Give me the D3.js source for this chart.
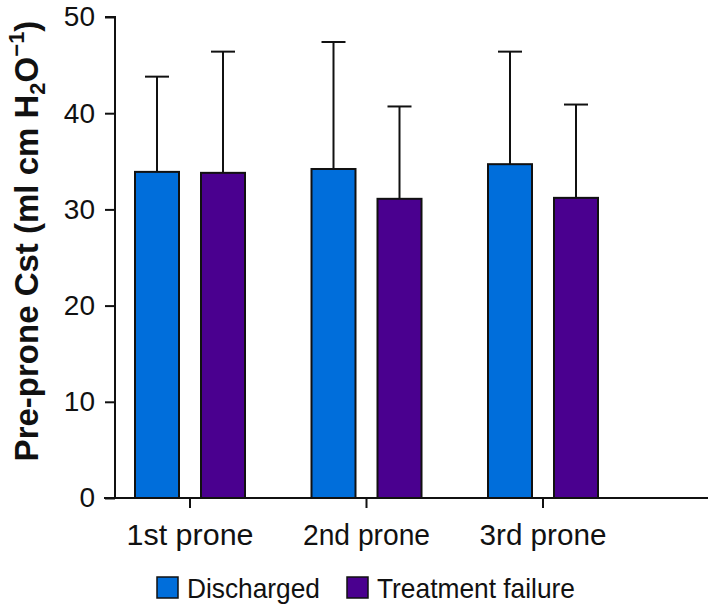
<!DOCTYPE html>
<html><head><meta charset="utf-8">
<script src="https://cdn.jsdelivr.net/npm/d3@7"></script>
<style>body{margin:0;background:#fff;} svg{display:block;font-family:"Liberation Sans",Arial,sans-serif;}</style>
</head><body>
<svg id="c" width="708" height="605"></svg>
<script>
const categories = ["1st prone", "2nd prone", "3rd prone"];
const seriesNames = ["Discharged", "Treatment failure"];
const discharged = [33.9, 34.2, 34.7];
const dischargedErr = [43.8, 47.4, 46.4];
const failure = [33.8, 31.1, 31.2];
const failureErr = [46.4, 40.7, 40.9];
const yTicks = [0, 10, 20, 30, 40, 50];
const colors = ["#006EDB", "#4A008F"];

const svg = d3.select("#c");
const y = d3.scaleLinear().domain([0, 50]).range([498, 17]);
const x = d3.scaleBand().domain(categories).range([101.75, 631.25]).paddingInner(0).paddingOuter(0);
const xs = d3.scaleBand().domain(seriesNames).range([33.25, 143.25]).paddingInner(1/3).paddingOuter(0);

const rows = [];
categories.forEach((c, i) => {
  rows.push({c, s: seriesNames[0], v: discharged[i], e: dischargedErr[i], col: colors[0]});
  rows.push({c, s: seriesNames[1], v: failure[i], e: failureErr[i], col: colors[1]});
});

const eg = svg.append("g").attr("stroke", "#111").attr("stroke-width", 2);
rows.forEach(r => {
  const cx = x(r.c) + xs(r.s) + xs.bandwidth() / 2;
  eg.append("line").attr("x1", cx).attr("x2", cx).attr("y1", y(r.v)).attr("y2", y(r.e));
  eg.append("line").attr("x1", cx - 12).attr("x2", cx + 12).attr("y1", y(r.e)).attr("y2", y(r.e));
});

svg.append("g").selectAll("rect").data(rows).join("rect")
  .attr("x", d => x(d.c) + xs(d.s))
  .attr("y", d => y(d.v))
  .attr("width", xs.bandwidth())
  .attr("height", d => y(0) - y(d.v))
  .attr("fill", d => d.col)
  .attr("stroke", "#111").attr("stroke-width", 2);

const ya = svg.append("g").attr("transform", "translate(115,0)")
  .call(d3.axisLeft(y).tickValues(yTicks).tickSize(10).tickPadding(10));
ya.selectAll("path,line").attr("stroke", "#111").attr("stroke-width", 2);
ya.select(".domain").attr("d", "M-10,17H0V498");
ya.selectAll("text").attr("font-size", 28).attr("fill", "#111").attr("font-family", "Liberation Sans, Arial, sans-serif");

const xa = svg.append("g").attr("transform", "translate(0,498)")
  .call(d3.axisBottom(x).tickSize(10).tickPadding(16));
xa.select(".domain").attr("d", "M104,0H708");
xa.selectAll("path,line").attr("stroke", "#111").attr("stroke-width", 2);
xa.selectAll("text").attr("font-size", 29).attr("fill", "#111").attr("font-family", "Liberation Sans, Arial, sans-serif")
  .attr("textLength", 127).attr("lengthAdjust", "spacingAndGlyphs");

const t = svg.append("text").attr("transform", "translate(38,241) rotate(-90)")
  .attr("text-anchor", "middle").attr("font-size", 33).attr("font-weight", "bold").attr("fill", "#111");
t.append("tspan").text("Pre-prone Cst (ml cm H");
t.append("tspan").text("2").attr("font-size", 22).attr("dy", 7);
t.append("tspan").text("O").attr("dy", -7);
t.append("tspan").text("−1").attr("font-size", 22).attr("dy", -14);
t.append("tspan").text(")").attr("dy", 14);

const lg = svg.append("g");
const legendX = [157, 347];
const legendLen = [133, 198];
seriesNames.forEach((s, i) => {
  lg.append("rect").attr("x", legendX[i]).attr("y", 577).attr("width", 21).attr("height", 21)
    .attr("fill", colors[i]).attr("stroke", "#111").attr("stroke-width", 1.5);
  lg.append("text").attr("x", legendX[i] + 30).attr("y", 598).attr("font-size", 28).attr("fill", "#111")
    .attr("textLength", legendLen[i]).attr("lengthAdjust", "spacingAndGlyphs").text(s);
});
</script>
</body></html>
